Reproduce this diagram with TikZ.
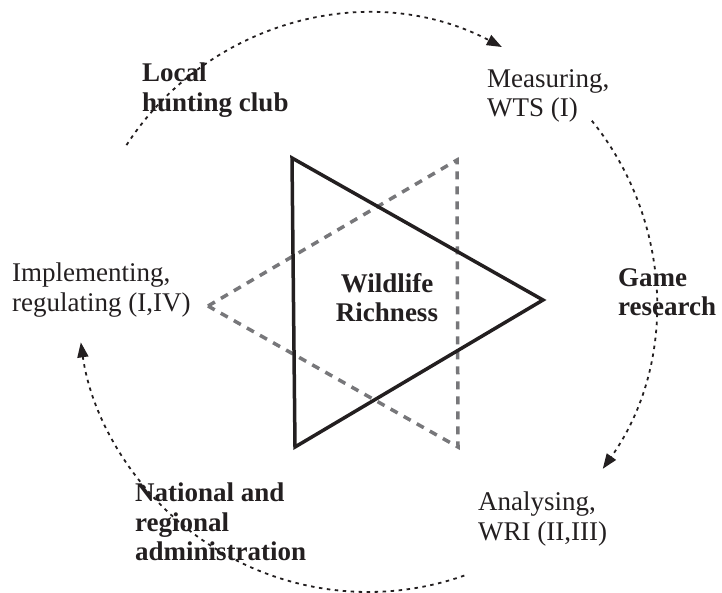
\documentclass[tikz,border=0pt]{standalone}
\usepackage{fontspec}
\setmainfont{Liberation Serif}
\usetikzlibrary{arrows.meta}
\definecolor{ink}{HTML}{231F20}
\definecolor{dgray}{HTML}{77777A}
\begin{document}
\begin{tikzpicture}[x=1pt,y=-1pt,
  lbl/.style={anchor=north west, inner sep=0pt, align=left, text=ink,
    font=\fontsize{27}{29.5}\selectfont},
  blbl/.style={lbl, font=\fontsize{27}{29.5}\selectfont\bfseries},
  cyc/.style={draw=ink, line width=1.8pt, dash pattern=on 3.5pt off 4.5pt,
    -{Triangle[length=15pt,width=11pt]}},
  soltri/.style={draw=ink, line width=3.5pt, line join=miter},
  dashtri/.style={draw=dgray, line width=3.5pt, dash pattern=on 8pt off 7pt}]
\useasboundingbox (0,0) rectangle (722,593);
% triangles
\coordinate (s1) at (292,158);
\coordinate (s2) at (543,300);
\coordinate (s3) at (295,447);
\coordinate (d1) at (457,160);
\coordinate (d2) at (458,447);
\coordinate (d3) at (208,306);
\draw[dashtri] (d3) -- (d1) -- (d2) -- cycle;
\draw[soltri] (s1) -- (s2) -- (s3) -- cycle;
% cycle arcs
\coordinate (c) at (368,302);
\draw[cyc] ([shift={(-147:288)}]c) arc[start angle=-147, end angle=-62.3, radius=288];
\draw[cyc] ([shift={(-39:288)}]c) arc[start angle=-39, end angle=35.4, radius=288];
\draw[cyc] ([shift={(70.6:290)}]c) arc[start angle=70.6, end angle=172, radius=290];
% labels
\node[blbl] (club) at (142,63) {Local\\hunting club};
\node[lbl] (meas) at (487,69) {Measuring,\\WTS (I)};
\node[blbl] (game) at (618,268) {Game\\research};
\node[lbl] (anal) at (478,492) {Analysing,\\WRI (II,III)};
\node[blbl] (admin) at (135,483) {National and\\regional\\administration};
\node[lbl] (impl) at (12,263) {Implementing,\\regulating (I,IV)};
\node[blbl, anchor=north, align=center] (wild) at (387,273) {Wildlife\\Richness};
\end{tikzpicture}
\end{document}
